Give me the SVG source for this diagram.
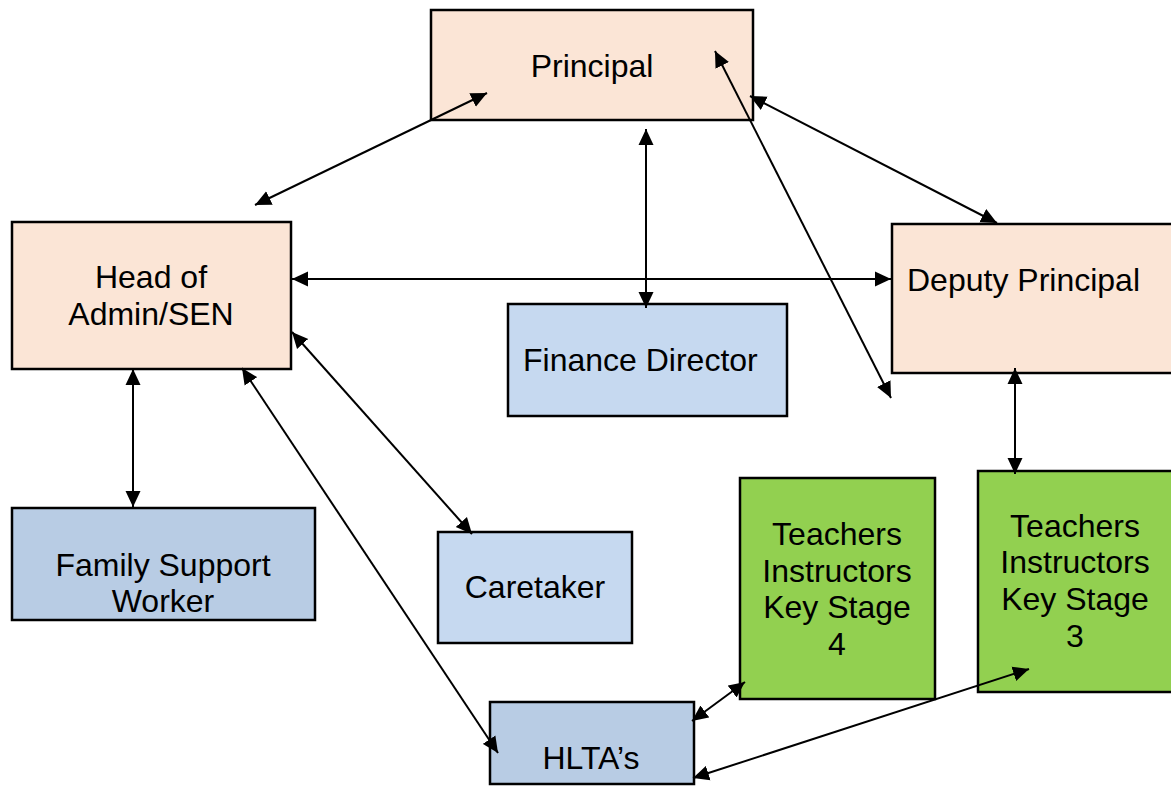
<svg xmlns="http://www.w3.org/2000/svg" width="1171" height="787" viewBox="0 0 1171 787">
<defs>
<style>
.box{stroke:#000;stroke-width:2.5}
.peach{fill:#FBE5D6}
.lblue{fill:#C6D9F0}
.dblue{fill:#B8CCE4}
.green{fill:#92D050}
text{font-family:"Liberation Sans",Arial,sans-serif;font-size:32px;fill:#000}
.c{text-anchor:middle}
.conn line{stroke:#000;stroke-width:2;marker-start:url(#ah);marker-end:url(#ah)}
</style>
<marker id="ah" markerUnits="userSpaceOnUse" markerWidth="18" markerHeight="16" refX="16" refY="8" orient="auto-start-reverse" viewBox="0 0 18 16">
<path d="M0,0.5 L16,8 L0,15.5 z" fill="#000"/>
</marker>
</defs>
<rect width="1171" height="787" fill="#fff"/>
<g id="principal"><rect class="box peach" x="431" y="10" width="322" height="110"/><text class="c" x="592" y="77">Principal</text></g>
<g id="head-admin"><rect class="box peach" x="12" y="222" width="279" height="147"/><text class="c" x="151" y="288">Head of</text><text class="c" x="151" y="325">Admin/SEN</text></g>
<g id="deputy"><rect class="box peach" x="892" y="224" width="290" height="149"/><text x="907" y="291">Deputy Principal</text></g>
<g id="finance"><rect class="box lblue" x="508" y="304" width="279" height="112"/><text x="523" y="371">Finance Director</text></g>
<g id="family"><rect class="box dblue" x="12" y="508" width="303" height="112"/><text class="c" x="163" y="576">Family Support</text><text class="c" x="163" y="612">Worker</text></g>
<g id="caretaker"><rect class="box lblue" x="438" y="532" width="194" height="111"/><text class="c" x="535" y="598">Caretaker</text></g>
<g id="ks4"><rect class="box green" x="740" y="478" width="195" height="221"/><text class="c" x="837" y="545">Teachers</text><text class="c" x="837" y="582">Instructors</text><text class="c" x="837" y="618">Key Stage</text><text class="c" x="837" y="655">4</text></g>
<g id="ks3"><rect class="box green" x="978" y="471" width="220" height="221"/><text class="c" x="1075" y="537">Teachers</text><text class="c" x="1075" y="573">Instructors</text><text class="c" x="1075" y="610">Key Stage</text><text class="c" x="1075" y="647">3</text></g>
<g id="hlta"><rect class="box dblue" x="490" y="702" width="204" height="82"/><text class="c" x="591" y="769">HLTA’s</text></g>
<g class="conn" id="connectors">
<line x1="487" y1="93" x2="255" y2="205"/>
<line x1="646" y1="129" x2="646" y2="308"/>
<line x1="750" y1="96" x2="997" y2="223"/>
<line x1="715" y1="51" x2="891" y2="398"/>
<line x1="292" y1="279" x2="891" y2="279"/>
<line x1="133" y1="369" x2="133" y2="507"/>
<line x1="292" y1="332" x2="472" y2="534"/>
<line x1="242" y1="368" x2="498" y2="753"/>
<line x1="1015" y1="368" x2="1015" y2="474"/>
<line x1="745" y1="682" x2="692" y2="721"/>
<line x1="1029" y1="669" x2="693" y2="778"/>
</g>
</svg>
